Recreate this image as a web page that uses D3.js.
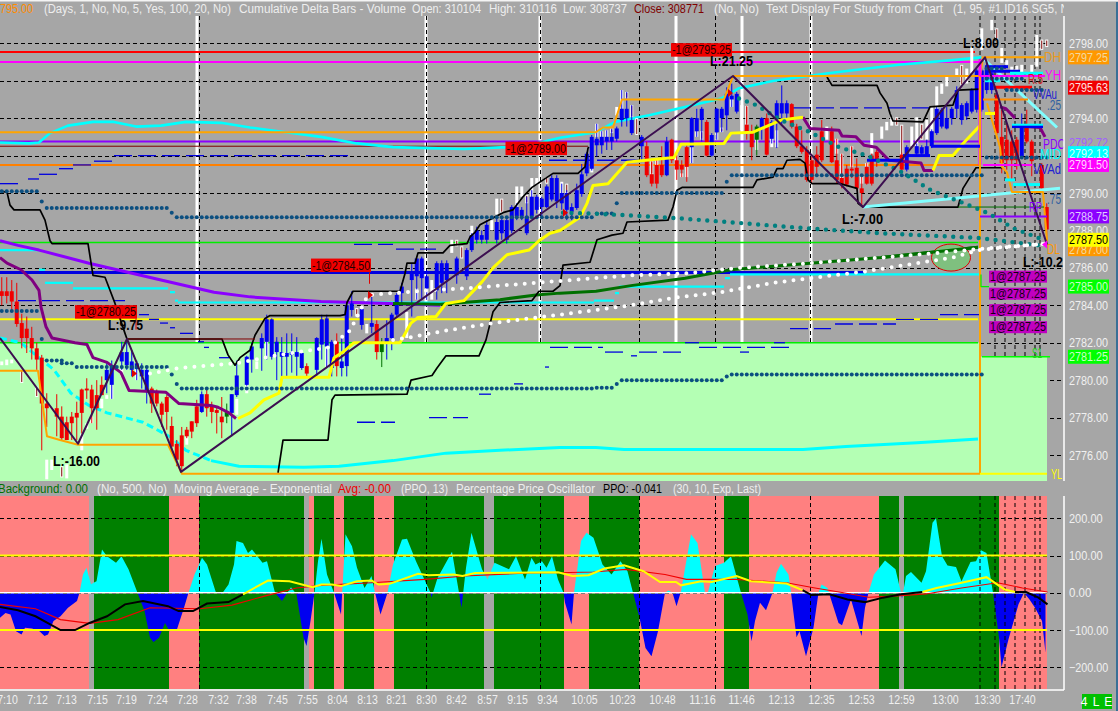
<!DOCTYPE html>
<html><head><meta charset="utf-8">
<script src="https://cdn.jsdelivr.net/npm/d3@7"></script>
<style>html,body{margin:0;padding:0;background:#a6a6a6;overflow:hidden}svg{display:block;font-family:"Liberation Sans",Arial,sans-serif}</style>
</head><body><svg id="c" width="1118" height="711"></svg>
<script>
// ---------- DATA ----------
const priceTicks=[2798,2796,2794,2792.72,2790,2788,2786,2784,2782,2780,2778,2776];
const gridPrices=[2798,2796,2794,2792,2790,2788,2786,2784,2782,2780,2778,2776];
const oscTicks=[200,100,0,-100,-200];
const timeLabels=["7:10","7:12","7:13","7:15","7:19","7:24","7:28","7:32","7:38","7:45","7:55","8:04","8:13","8:21","8:30","8:42","8:57","9:15","9:34","10:05","10:23","10:48","11:16","11:46","12:13","12:35","12:53","12:59","13:00","13:30","17:40"];
const timeBars=[1.4,7.4,13.2,19.4,25.2,31.4,37.4,43.6,49.2,55.4,61.4,67.4,73.4,79.2,85.2,91.2,97.4,103.4,109.4,116.8,124.4,132.4,140.4,148.2,156.2,164.2,172.2,180.2,189,197.4,204.4];
const sessionLines=[39.4,85.2,108,135.2,148.4,162.2];
const sessionDash=[39.8,85.2,108,127.8,143,162,195.9,198.9,200.9,202.9,204.9,206.9,207.9];
const bgSegs=[[0,17.8,'p'],[17.8,18.8,'n'],[18.8,33.8,'g'],[33.8,39.8,'p'],[39.8,60.8,'g'],[60.8,61.8,'n'],[61.8,62.8,'p'],[62.8,66.8,'g'],[66.8,68.8,'p'],[68.8,74.8,'g'],[74.8,78.8,'p'],[78.8,96.8,'g'],[96.8,98.8,'n'],[98.8,112.8,'g'],[112.8,117.8,'p'],[117.8,127.9,'g'],[127.9,144.8,'p'],[144.8,149.8,'g'],[149.8,175.8,'p'],[175.8,179.8,'g'],[179.8,180.8,'n'],[180.8,199.8,'g'],[199.8,209.4,'p']];
// level lines: start bar, end bar, price
const redLevel=[0,195,2797.53], magentaLevel=[0,196,2797], purpleLevel=[0,196,2792.75], darkRedLevel=[0,117.6,2792.5], orangeLevel=[0,196,2791.5], blueLevel=[0,172.8,2785.75], yellowLevel=[0,195.6,2783.25], limeTop=[0,195.6,2787.35], limeBottom=[0,195.6,2782];
const zigzag=[[0,2782.25],[15.6,2776.6],[25.4,2782.2],[36.2,2775.1],[146.6,2796.25],[172.6,2789.25],[197,2797.25],[209.4,2787.25]];
const blackA=[[0,2790.1],[1.4,2790.05],[2,2789.35],[2.8,2789.1],[8,2789.1],[9,2788.55],[10,2787.45],[10.4,2787.3],[17.6,2787.3],[18.6,2785.6],[21,2785.5],[22,2784.8],[23,2784.1],[25,2782.5],[25.4,2782.2],[44.4,2782.2],[45.6,2781.35],[47,2780.8],[48,2781.2],[50,2781.6],[51,2782.4],[53,2783.3],[54,2783.45],[68,2783.45],[69,2783.5],[69.4,2784.15],[70.6,2784.75],[80,2784.75],[81,2785.7],[81.4,2786.25],[83,2786.25],[83.6,2786.8],[88.6,2786.8],[90,2787.2],[93.4,2787.3],[94,2787.65],[95,2787.9],[96,2788.3],[100.6,2788.95],[102.6,2789.1],[104.6,2789.8],[106.4,2790.3],[110.6,2791.05],[115.6,2791.05],[117,2791.4],[117.6,2792.4],[117.8,2792.45]];
const blackB=[[165.4,2796.2],[166.4,2795.75],[175.4,2795.75],[176,2795.35],[177.4,2794.8],[178,2794.25],[178.6,2793.85],[184.6,2793.8],[186,2794.6],[190.6,2794.7],[191.6,2795.5],[196,2795.55]];
const blackC=[[55.6,2775.05],[56.6,2776.8],[65.6,2776.8],[66.4,2778.95],[67,2779.2],[81.4,2779.25],[82.2,2780],[86.4,2780.25],[87.4,2780.65],[89.2,2781.3],[95.8,2781.3],[97.2,2782.15],[98.6,2783.65],[100,2784.15],[106.4,2784.25],[107.8,2784.75],[110.6,2784.75],[112,2785.05],[112.6,2786.15],[118,2786.3],[119.4,2787.5],[122.4,2787.75],[124.6,2787.85],[125.4,2788.45],[133.6,2788.55],[134.6,2789.25],[135.4,2790.15],[136.4,2790.3],[150.6,2790.3],[151.4,2790.7],[154.6,2790.85],[155.4,2791.3],[156.6,2791.3],[157.4,2791.75],[160,2791.8],[161,2791.6],[161.6,2790.7],[162.4,2790.5],[168,2790.5],[171.4,2790.25],[171.6,2789.45],[172.6,2789.25],[191.6,2789.25],[192.6,2790.25],[194,2790.85],[195.2,2791.35],[200.6,2791.35]];
const maroonA=[[0,2786.55],[1.4,2786.25],[4.2,2785.9],[6.4,2785.35],[7.8,2784.8],[8.2,2783.9],[9.2,2782.85],[10.4,2782.25],[15,2782],[17.4,2781.9],[18.6,2781.2],[21.4,2780.95],[24.2,2780.4],[25.8,2779.45],[33.2,2779.35],[35.8,2778.75],[42.2,2778.65],[43.6,2778.55],[45.8,2778.25],[47.2,2777.95]];
const maroonB=[[160.6,2794.05],[162,2793.45],[167.8,2793.35],[168.4,2793.05],[171.2,2793],[172.8,2792.55],[175.2,2792.45],[177.8,2791.75],[184.2,2791.6],[184.8,2791.2],[186.6,2791.2]];
const maroonC=[[200,2794.6],[201.2,2794.5],[203,2794]];
const maroonD=[[202.6,2793.6],[208,2793.5],[209,2793]];
const yellowA=[[47.6,2777.95],[50,2778.25],[52.8,2778.95],[55.8,2779.3],[56.4,2780.15],[65.8,2780.15],[66.8,2781.2],[68.6,2781.5],[70.8,2782],[80,2782],[82.2,2783.05],[83.6,2783.35],[87.2,2783.4],[89.2,2784.1],[92.8,2784.25],[96.4,2785.25],[98.6,2786],[101.4,2786.7],[105.8,2786.95],[107.8,2787.45],[110,2787.85],[112,2788],[116,2788.7],[117.4,2789.45],[118.6,2790.4],[121.6,2790.5],[124.6,2791.4],[125.4,2791.65],[129.2,2791.75],[134.8,2791.9],[136.2,2792.6],[144.8,2792.65],[146.2,2793.2],[150.6,2793.25],[156.2,2793.9],[160.6,2794.05]];
const yellowB=[[186.6,2791.2],[187.8,2792],[190.6,2792],[192.8,2792.7],[196,2793.6]];
const violetWave=[[0,2787.45],[3.6,2787.2],[7.8,2786.95],[17.8,2786.25],[32.2,2785.35],[42.8,2784.7],[50,2784.45],[64.2,2784.2],[77.8,2784.1],[88,2784]];
const cyanUpper=[[0,2792.7],[5.8,2792.65],[7.8,2792.7],[10,2793.2],[13.6,2793.6],[18.6,2793.8],[22.8,2793.8],[27.2,2793.55],[32.2,2793.6],[37.2,2793.8],[44.2,2793.75],[50,2793.5],[57.2,2793.25],[64.2,2793],[71.4,2792.65],[78.6,2792.45],[85.8,2792.4],[92.8,2792.35],[101.4,2792.45],[107.2,2792.65],[112,2792.95],[119.2,2793.25],[123,2793.8],[129.8,2794.15],[137,2794.6],[144.2,2795.05],[147.8,2795.6],[154.8,2796],[165.6,2796.4],[179.8,2796.85],[190.6,2797.1],[196.2,2797.25]];
const cyanFall=[[196.6,2797.2],[211.4,2793.5]];
const cyanRise=[[172.6,2789.25],[212,2790.25]];
const cyanLowerDashed=[[0,2782.25],[4.2,2782],[7.8,2781.2],[10.8,2780.55],[14.2,2779.3],[17.8,2778.65],[21.4,2778.25],[28.6,2777.75],[34.2,2776.95],[37.2,2776.25],[42.2,2775.7]];
const cyanLower=[[42.2,2775.7],[47.8,2775.4],[60.8,2775.35],[67.8,2775.4],[78.6,2775.7],[89.2,2776.1],[100,2776.25],[112,2776.4],[119.2,2776.4],[124.8,2776.3],[144.8,2776.3],[160.6,2776.3],[169.2,2776.45],[183.4,2776.65],[195.6,2776.85]];
const cyanSteps=[[0,7.8,2786.95],[7.8,9,2785.9],[9,14.6,2785.2],[14.6,33.6,2784.9],[34,35,2784.7],[35,35.6,2784.25],[35.6,118.8,2784.15],[118.8,122.8,2784.25],[123,123.8,2784.65],[123.8,144.8,2785],[145,146,2785.45],[146,196,2785.65]];
const greenRise=[[78.6,2784.1],[88,2784.05],[92.6,2784.15],[100,2784.3],[107.2,2784.55],[112,2784.65],[119.2,2784.75],[126.2,2785.05],[137,2785.45],[146.2,2785.9],[162,2786.25],[176.2,2786.55],[190.6,2786.95],[195.6,2787.1]];
const whiteDotsA=[[30,2780.35],[35.8,2780.65],[42.8,2780.8],[47.2,2780.9],[55.8,2781.35],[65.8,2781.75],[70,2782.65],[73.6,2784.55],[78.6,2784.65],[85.8,2784.8],[92.8,2784.9],[100,2785.05],[112,2785.3],[126.2,2785.6],[137,2785.7],[147.8,2786],[162,2786.25],[183.4,2786.7],[195.6,2787],[204.8,2787.2],[209.4,2787.3]];
const whiteDotsB=[[78.6,2782.15],[82.2,2782.3],[89.2,2782.65],[100,2783.1],[112,2783.5],[119.2,2783.75],[126.2,2784],[134.8,2784.4],[144.2,2784.7],[154.8,2785.2],[162,2785.45],[172.8,2785.8],[183.4,2786.25],[190.6,2786.55],[195.6,2786.95],[201.2,2787.1],[209.4,2787.3]];
const tealDotsA=[[112.6,2788.95],[118.4,2788.9],[126.2,2788.8],[135.6,2788.65],[147.8,2788.4],[162,2788.1],[176.2,2787.85],[195.6,2787.6],[208,2787.2]];
const tealDotsB=[[147.8,2795.05],[151.2,2794.7],[156.2,2793.9],[162,2793.25],[167.8,2792.45],[173.4,2792],[179.8,2791.2],[186.2,2790.15],[192.8,2789.45],[197.8,2788.9],[202.8,2788.1],[209.2,2787.45]];
const navyDots=[[0,7,2790.1],[8,8,2789.55],[9,33,2789.2],[34,34,2788.95],[35,118,2788.7],[119,122,2788.9],[123,123,2789.45],[124,144,2790],[145,145,2790.6],[146,196,2790.95],[0,7,2783.7],[8,8,2782.2],[9,12,2781.05],[12,14,2780.9],[15,33,2780.7],[34,34,2780.3],[35,35,2779.8],[36,118,2779.55],[119,122,2779.6],[123,123,2779.8],[124,144,2780],[145,145,2780.2],[146,196,2780.3],[197,209,2791.9],[201,208,2795.5],[197,200,2796.65],[197,204,2796.1]];
const blueDashes=[[0,4.2,2790.5],[5.6,7.8,2790.75],[7.8,11.4,2791],[11.8,14.6,2791.3],[14.6,18.6,2791.5],[18.8,22.4,2791.7],[22.8,69.6,2792],[109.8,128,2791.75],[158.4,187.6,2794.55],[3.6,25,2784.25],[27.8,29.8,2783.5],[29.8,31.8,2783.25],[32,33.6,2783.05],[34,35,2782.8],[36,38.6,2782.5],[39.6,40.8,2782.05],[40.8,41.8,2781.75],[43.8,45.8,2781.2],[71.4,79,2777.75],[85.8,93.6,2778],[95.8,98.2,2779.25],[102.8,104.6,2779.8],[109,109.8,2780.7],[110,120.6,2781.75],[121,124.6,2781.5],[126.2,127.4,2781.3],[127.8,136.2,2781.5],[137,139.8,2782],[139.8,157.8,2781.75],[148,149.8,2781.5],[154.8,157,2782],[158,166.2,2782.75],[167,179.2,2783],[179.2,187.6,2783.25],[188,196,2783.5],[70.8,78.6,2787.25],[79.2,87.2,2787]];
const orangeUpper=[[0,2793.25],[119.2,2793.25],[120.6,2793.5],[122.6,2793.5],[124.4,2795],[144.8,2795],[146.6,2796.25],[196,2796.25],[196.6,2797.25],[208.8,2797.25]];
const orangeLower=[[0,2780.5],[7.6,2780.5],[9.4,2777],[12,2776.8],[15.6,2776.55],[33.6,2776.55],[36.4,2775],[196,2775]];
const orangeRight=[[197.4,2794.8],[198,2794.25],[200,2792.45],[200.4,2791.4],[201.4,2791.1],[202.4,2790.05],[208.6,2790.05],[209.4,2787.45]];
const orangeDrop=[[196,2796.25],[196,2775]];
const magentaDrop=[[196,2797.15],[196,2791.5]];
const limeStep=[[196.2,2785.65],[196.2,2785],[197.8,2785]];
// short right-hand level segments: start bar, end bar, price, colour, weight
const rightSegs=[[199,206.4,2795.65,'#ff0000',3],[196.6,205.6,2795,'#ff8c00',2],[197,201.6,2796.75,'#0000f0',3],[197.4,204,2796.5,'#0000f0',3],[202,208.6,2796.4,'#00ffff',3],[196,209,2796.25,'#ff00ff',2],[196,209.4,2788.75,'#8b00ff',2],[196.6,206.4,2791.5,'#ff00ff',2],[202.4,208.6,2793.55,'#0000f0',3],[202.4,208.6,2793.65,'#00ffff',2],[202.6,208,2790.45,'#00ffff',3],[201,203,2790.7,'#00ffff',3],[186.2,196,2792.5,'#0000f0',3],[180.6,186,2792,'#0000f0',3],[173.4,180.6,2791.75,'#0000f0',3],[191.6,208.8,2789.25,'#007000',1],[196.4,210,2781.25,'#00ff00',1.5],[196,209.4,2775,'#ffff00',2],[197,199,2794.25,'#ffff00',3],[197,200,2796,'#00ffff',3],[25.4,51,2782.2,'#800000',1]];
// candles: bar, kind, body top, body bottom, high, low
const candleRows=[[0,'r',2784.75,2784.5,2785.5,2784],[1,'r',2784.75,2784.5,2785.5,2784.1],[2,'r',2784.75,2784.2,2785.35,2783.75],[3,'r',2784.2,2783,2785.2,2782.85],[4,'r',2783.05,2782.25,2783.55,2781.7],[5,'r',2782.75,2782.25,2783.4,2781.45],[6,'r',2782.25,2781.7,2782.85,2781.1],[7,'r',2781.7,2781.1,2782,2780.55],[8,'r',2781.2,2778.75,2781.35,2776.25],[9,'r',2778.75,2778.5,2779.3,2777.5],[11,'r',2778.5,2778.05,2779.25,2777],[12,'r',2778.05,2776.9,2778.6,2776.8],[13,'r',2777.75,2776.8,2778.05,2776.8],[14,'r',2778.05,2777.7,2778.3,2776.8],[15,'r',2778.25,2778,2778.85,2776.8],[16,'r',2779.5,2778.25,2779.55,2777.15],[17,'r',2779.55,2779.45,2780.1,2779],[18,'r',2779.5,2778.5,2779.75,2777.7],[19,'r',2779.2,2778.5,2780,2777.35],[20,'r',2779.75,2779.2,2780.2,2779.3],[21,'b',2780.55,2780,2780.9,2779.3],[22,'b',2780.8,2779.75,2781.05,2779],[24,'b',2781.5,2781,2782.05,2780.55],[25,'b',2781.5,2780.8,2782.05,2780.55],[26,'b',2781,2780.55,2781.6,2780.2],[27,'b',2780.9,2780.6,2781.05,2780],[28,'b',2780.55,2780.2,2780.9,2779.55],[29,'b',2780.55,2779.4,2780.65,2778.75],[30,'r',2779.55,2778.75,2779.65,2778.25],[31,'r',2779.4,2778.75,2779.5,2778.6],[32,'r',2778.75,2778.15,2778.85,2777.5],[33,'r',2779.1,2778.3,2779.2,2777.35],[34,'r',2777.55,2776.45,2778.05,2776.1],[35,'r',2776.6,2775.75,2776.8,2775.4],[36,'r',2777.05,2775.4,2777.5,2775.2],[37,'r',2777.35,2777,2777.5,2776.9],[38,'r',2777.8,2777.25,2777.8,2776.9],[39,'r',2778.6,2777.7,2778.95,2777.5],[40,'b',2779.25,2778.3,2779.4,2778.25],[41,'r',2779.25,2778.5,2779.5,2778.05],[42,'r',2778.65,2778.3,2778.85,2777.7],[43,'r',2778.4,2778.25,2778.6,2777.15],[44,'r',2778.05,2777.75,2779.1,2776.9],[45,'g',2778.3,2778.05,2778.75,2777.7],[46,'b',2779.25,2778.25,2779.25,2777],[47,'b',2780.25,2779.2,2781.05,2779.1],[49,'b',2781.25,2779.75,2781.3,2779.7],[50,'b',2781.8,2781.1,2782,2780.4],[52,'b',2782.25,2781.7,2782.5,2780.5],[53,'b',2783.25,2782.05,2783.5,2781.1],[54,'b',2783.25,2781.25,2783.3,2781.1],[55,'b',2782.05,2781.5,2782.3,2780],[56,'b',2781.5,2781.25,2782.3,2780.2],[57,'b',2781.45,2781.25,2782.5,2780.2],[58,'b',2781.5,2781.35,2782.5,2780.4],[59,'b',2781.5,2781.25,2782.3,2780.2],[60,'b',2781.45,2780.65,2781.5,2780.55],[61,'r',2780.75,2780.35,2780.9,2780.2],[63,'b',2782.25,2780.55,2782.3,2780.2],[64,'b',2783.25,2781.9,2783.5,2781.1],[65,'b',2783.3,2781.8,2783.5,2780.65],[66,'b',2782.05,2780.65,2782.15,2780.2],[67,'r',2782.05,2780.75,2782.5,2780.2],[68,'b',2781,2780.65,2782.3,2780.2],[69,'b',2784,2780.75,2784.1,2780.2],[70,'b',2784.1,2783.75,2784.75,2783.4],[72,'b',2783.8,2782.95,2783.85,2782.7],[74,'b',2783.05,2782.85,2784.45,2782.5],[75,'r',2783,2781.5,2783.2,2781.1],[76,'g',2782,2781.5,2782.25,2780.7],[77,'b',2782.25,2782,2783.2,2781.1],[78,'b',2783.5,2782.25,2783.6,2781.6],[79,'b',2784.55,2783.5,2784.65,2783.4],[80,'b',2785,2784.65,2785.2,2784],[82,'b',2785.7,2785.35,2786.25,2783.4],[83,'b',2786.5,2785.55,2786.5,2784.3],[84,'b',2786.5,2785.45,2786.6,2784.3],[85,'b',2785.55,2784.9,2785.9,2784.3],[87,'b',2786.25,2784.8,2786.35,2784.3],[88,'b',2786.25,2785.2,2786.4,2784.65],[89,'b',2786.25,2785.35,2786.4,2784.65],[91,'b',2786.5,2785.6,2786.6,2785.15],[93,'b',2786.95,2785.55,2787.05,2785.35],[94,'b',2787.75,2786.95,2787.85,2786.85],[95,'b',2788,2787.5,2788.2,2787.3],[96,'b',2787.75,2787.5,2788,2787.3],[97,'b',2788.3,2787.5,2788.55,2787.3],[99,'b',2788.45,2787.5,2788.75,2787.3],[100,'b',2788.55,2787.85,2788.75,2787.5],[101,'b',2788.55,2787.5,2788.75,2787.3],[102,'b',2789.25,2788,2789.35,2787.85],[103,'b',2789.25,2788.75,2789.45,2788.55],[104,'b',2789.1,2788.75,2789.25,2788.55],[105,'b',2788.75,2787.85,2789.8,2787.75],[106,'b',2789.8,2788.75,2790.15,2788.65],[107,'b',2789.8,2789.1,2789.9,2788.9],[108,'b',2789.7,2789.25,2789.8,2788.75],[109,'b',2790.35,2789.25,2790.45,2789.2],[110,'b',2790.8,2789.65,2790.95,2789.55],[111,'b',2790.8,2789.55,2790.95,2789.2],[112,'b',2790,2789.45,2790.5,2789.1],[113,'b',2790,2789.1,2790.15,2788.55],[114,'b',2789.25,2789,2789.45,2788.55],[115,'b',2790.15,2789.2,2790.5,2789.1],[116,'b',2791,2789.95,2791.55,2789.8],[117,'b',2792.1,2791.05,2792.2,2790.9],[118,'b',2793,2791.3,2793.1,2791.2],[119,'b',2792.9,2792.55,2793.7,2791.95],[120,'b',2793,2792.55,2793.3,2792.1],[121,'b',2793,2792.75,2793.35,2792.3],[122,'b',2793,2792.75,2793.45,2792.3],[123,'b',2793.45,2792.9,2793.55,2792.75],[124,'b',2794.5,2793.9,2795.5,2793.55],[125,'b',2794.5,2794,2795.4,2793.55],[126,'b',2793.9,2793.2,2794.7,2793.1],[128,'b',2793,2792.5,2793.1,2791.65],[129,'r',2792.5,2790.95,2792.75,2790.85],[130,'r',2791,2790.5,2791.7,2790.35],[131,'r',2791.5,2790.5,2791.85,2790.25],[132,'r',2791.5,2790.95,2792.5,2790.85],[133,'b',2792.75,2790.95,2793,2790.9],[134,'r',2792.85,2791.75,2792.9,2791.6],[135,'r',2791.75,2791.25,2792.05,2790.7],[136,'r',2791.5,2791.25,2791.75,2790.85],[137,'r',2792.45,2791.4,2792.55,2790.6],[138,'b',2794,2792.45,2794.05,2791.6],[139,'b',2794,2793.3,2794.5,2793],[140,'b',2794.5,2793.9,2794.6,2792.75],[141,'r',2793.8,2792,2793.9,2791.95],[142,'b',2793.1,2792,2793.2,2791.95],[143,'b',2794.5,2793.25,2794.55,2792.85],[144,'b',2794.5,2794,2794.6,2793.25],[145,'b',2795.3,2794.15,2795.65,2793.35],[146,'b',2795.2,2795,2795.85,2794.6],[147,'b',2795.3,2794.35,2795.4,2794.25],[149,'r',2793.65,2793.25,2794.65,2792.85],[150,'r',2793.3,2792.45,2793.65,2791.75],[151,'g',2793.55,2792.85,2793.65,2792],[152,'b',2794,2793.45,2794.05,2792.85],[153,'r',2794,2792.05,2794.25,2792],[154,'b',2793.8,2792.9,2793.9,2792.65],[155,'b',2794.8,2794,2794.95,2792.4],[156,'b',2794.8,2794.25,2795.75,2793.65],[157,'b',2794.8,2794.25,2794.95,2794],[158,'r',2794.75,2793.55,2794.8,2793.45],[159,'r',2793.55,2792.5,2793.7,2792.4],[160,'r',2792.5,2792.2,2793.35,2792.1],[161,'r',2792.3,2790.7,2792.5,2790.6],[162,'r',2791.75,2790.7,2791.95,2790.5],[163,'r',2792.05,2791.4,2792.5,2790.95],[164,'r',2793.3,2791.75,2793.9,2791.65],[166,'r',2793.3,2791.65,2793.55,2791.6],[167,'r',2791.75,2790.7,2792.9,2790.5],[168,'r',2790.8,2790.45,2792.1,2790.25],[169,'r',2791.3,2790.45,2791.5,2790.35],[170,'r',2791.3,2791.2,2792.5,2790.8],[171,'r',2791.35,2790.25,2791.85,2790.15],[172,'r',2790.25,2790,2790.9,2789.35],[173,'r',2791.4,2790.5,2791.6,2790.45],[174,'r',2792,2790.5,2792.1,2790.4],[175,'r',2792.2,2791.75,2792.3,2791.4],[180,'r',2792.05,2791.25,2792.15,2791.15],[181,'b',2792.45,2791.25,2792.55,2791.15],[183,'b',2792.5,2792.1,2792.65,2791.95],[184,'b',2792.45,2792.1,2792.55,2791.95],[185,'b',2792.5,2792.05,2792.85,2791.95],[186,'b',2793.3,2792.5,2793.4,2792.4],[187,'b',2794.5,2793.2,2794.6,2793.1],[188,'b',2794.45,2793.55,2794.55,2793.45],[189,'b',2794,2793.45,2794.6,2793.4],[190,'b',2794.5,2794,2794.6,2793.65],[191,'b',2795.5,2794.5,2795.7,2794],[192,'b',2794.7,2793.9,2794.8,2793.65],[193,'b',2794.8,2794.1,2794.9,2793.9],[194,'b',2795.5,2794.35,2795.6,2794.25],[195,'b',2796.55,2794.45,2796.65,2794.3],[196,'b',2796.55,2794.45,2796.65,2794.35],[197,'b',2796.75,2795.5,2796.9,2795.3],[198,'b',2796.4,2795.5,2796.5,2795.3],[199,'r',2795.25,2793.2,2795.5,2793.1],[200,'r',2793,2791.6,2794.45,2791.05],[201,'r',2792.85,2791.75,2793.7,2791.25],[202,'r',2792.75,2791.75,2793.35,2790.7],[203,'r',2792.85,2791.75,2793,2791.25],[204,'b',2793.65,2791.95,2794.25,2791.85],[205,'r',2793.65,2792.75,2794.45,2792.65],[206,'r',2792.75,2791.7,2792.85,2790.9],[208,'r',2791.5,2790.25,2791.6,2790.15],[209,'r',2789.25,2788.05,2789.45,2787.25]];
// second study bars: bar, top, bottom, dark centre
const whiteRows=[[0,2781,2780.8,0],[1,2781.1,2780.8,0],[2,2781.1,2780.9,0],[4,2780.55,2779.85,1],[7,2779.65,2779.1,1],[9,2775.75,2774.7,0],[10,2775.75,2775.2,0],[12,2775.4,2774.8,1],[13,2775.5,2774.75,0],[16,2777.15,2776.25,0],[17,2777.7,2777.4,0],[18,2778.05,2777.7,0],[20,2779,2778.5,0],[21,2779.2,2779,0],[22,2779.75,2779,0],[24,2780.6,2780.2,0],[27,2780.55,2780,0],[28,2780.45,2780.2,0],[37,2777,2776.55,0],[47,2779,2778.15,0],[49,2779.75,2779.3,0],[51,2781,2780.6,0],[53,2782.05,2781.25,0],[65,2781.8,2780.65,0],[71,2783.85,2783.4,1],[73,2783,2782.5,0],[81,2783.65,2782.25,0],[83,2784.9,2784.3,0],[85,2784.9,2784.3,0],[86,2785.35,2784.3,0],[90,2787.5,2786.8,0],[91,2787.5,2787.15,1],[92,2787.15,2786.5,1],[94,2788.25,2787.75,0],[98,2788.55,2788,0],[99,2789.7,2788.85,0],[100,2789.7,2788.95,1],[103,2790.35,2789.25,0],[104,2790.35,2789.8,0],[105,2789.9,2789.45,1],[106,2790.8,2789.8,0],[107,2790.8,2790.45,0],[109,2790.85,2790.5,1],[112,2790.6,2790,0],[113,2790.5,2790,1],[118,2791.3,2791.1,0],[119,2793.7,2793,0],[120,2793.3,2793,0],[121,2793.35,2793,0],[122,2793.45,2793.2,1],[123,2794.6,2794.15,0],[124,2795.5,2794.5,0],[125,2795.4,2795.05,1],[126,2794.7,2794.05,1],[127,2794,2793.1,1],[130,2791.7,2791,1],[131,2791.85,2791.5,0],[136,2791.05,2790.85,0],[137,2791.4,2790.85,0],[138,2792.45,2791.6,0],[139,2793.3,2793,0],[140,2793.3,2792.85,1],[143,2793.2,2792.85,0],[144,2793.5,2793.25,1],[146,2795.15,2794.6,0],[148,2794.7,2793.35,0],[149,2794.65,2793.65,1],[151,2792.85,2792.3,0],[154,2792.9,2792.45,0],[155,2793.35,2792.45,0],[165,2793.55,2792.85,0],[167,2792.9,2792.1,0],[168,2792.1,2790.8,1],[170,2792.5,2791.4,1],[172,2790.9,2790.5,0],[173,2791.6,2791.4,0],[174,2793.2,2792.1,0],[176,2793.55,2792.9,0],[177,2793.8,2793.35,0],[178,2794.05,2793.6,0],[179,2794.05,2793.6,1],[180,2793.65,2792.05,1],[182,2793.55,2792.5,0],[183,2794.05,2792.5,0],[184,2793.7,2792.85,1],[185,2793.9,2792.85,0],[186,2794.6,2793.3,0],[187,2795.7,2794.45,0],[188,2795.85,2795.3,0],[189,2796.3,2795.7,0],[191,2796.65,2796.3,0],[192,2796.85,2795.75,1],[193,2796.65,2795.85,0],[194,2797.8,2796.4,0],[196,2798.8,2797.65,0],[198,2799.25,2798.7,0],[199,2798.8,2798.2,1],[200,2797.75,2796.95,0],[201,2797.1,2796.85,0],[202,2796.75,2796.4,0],[203,2796.8,2796.4,0],[204,2796.85,2796.45,0],[206,2796.85,2796.4,0],[207,2798.45,2796.75,0],[208,2798.2,2797.65,1],[209,2798.2,2797.8,1]];
const oscBars=[0,1.1,2.1,3.2,4.3,5,6.4,7.9,8.9,9.6,10.7,12.1,13.6,15.4,15.9,16.6,17.3,18.2,18.7,19.3,20.4,21.4,23.2,24.3,25.7,27.5,28.9,30,30.7,31.8,33,33.9,35.4,36.8,37.7,38.9,40.4,41.4,43.2,44.3,45.7,46.8,47.3,48.6,49.6,50.4,52.5,53.4,55,56.4,58.2,59.3,60.7,61.3,62.1,62.9,63.6,64.3,65.4,66.8,68.2,69.1,70.4,71.4,72.9,74.3,75,76.1,77.5,78.6,80.4,81.4,83.2,86.1,86.3,87.5,90.4,91.8,92.3,93.2,94.3,96.4,97.5,98.9,101.8,103.2,105,106.3,107.1,108.4,109.3,110.4,111.6,112.7,113,114.3,114.8,116.2,117.3,118.7,120.5,122.3,124.1,125.5,126.6,127.9,129.1,130.3,131.6,133,133.7,134.5,135.3,136.2,138.2,139.5,141,141.5,143,144.8,146.2,148.2,149.5,150.3,151,152,153.2,154.5,155.3,156.2,157.7,158.2,159.3,159.9,161.2,162.7,163.7,164.3,165.5,166,167.7,168.4,170.2,172.3,173,173.7,174.8,177,179.1,180.2,180.4,181.2,182.2,184.3,185.2,186.5,187.2,188.4,189.5,191.2,192.3,194.1,195.2,196.2,197.3,198.6,199.8,200.3,201.7,203.7,204.8,205.9,207,208.4,209.1];
const oscVals=[-67,-54,-58,-103,-112,-94,-96,-103,-116,-112,-76,-63,-40,-22,0,49,67,22,27,31,116,98,81,98,63,0,-49,-121,-132,-121,-81,-103,-98,-40,0,49,94,76,0,-4,22,76,139,134,107,116,81,85,0,-22,15,-4,-121,-143,-76,0,85,145,49,0,-58,157,125,67,13,45,0,-58,0,76,143,145,85,0,-13,40,110,0,-40,67,161,63,36,81,63,98,36,94,76,85,67,98,36,0,-27,-85,0,139,161,148,76,49,85,58,0,-67,-148,-170,-103,0,6,0,-36,4,157,134,0,-3,72,81,98,0,-58,-130,-76,-27,-47,0,54,78,49,0,-119,-103,-170,-94,0,22,13,-9,-81,-87,-18,-116,-40,0,49,87,63,0,-16,45,56,27,58,188,200,98,73,69,31,83,85,114,107,0,-121,-200,-125,-31,0,-18,-40,-76,-161];
const oscRed=[[0,-31],[7.1,-43],[12.1,-72],[17.9,-82],[23.6,-72],[30,-40],[40,-43],[46.4,-33],[52.9,-9],[59.3,13],[64.3,20],[74.3,27],[85,36],[93,45],[105.7,53],[111.6,54],[118.7,56],[125.2,63],[133,49],[137.3,36],[147.3,36],[157.3,27],[163,13],[168.7,0],[173.7,-12],[178.7,-9],[185.2,-3],[192.3,13],[199.5,27],[204.5,13],[209.5,2]];
const ppoBlackA=[[0,-38],[3.6,-47],[7.1,-63],[12.1,-100],[15,-100],[17.9,-81],[21.4,-63],[25,-31],[28.6,-22],[33.6,-36],[35.7,-49],[38.6,-49],[41.4,-29],[45.7,-25],[48.6,-4]];
const ppoYellowA=[[48.6,-4],[53.6,33],[57.9,31],[62.5,15],[64.3,22],[66.4,22],[68.2,18],[71.4,31],[74.3,33],[75.7,22],[77.9,24],[83.6,51],[85.7,47],[90.7,49],[92.5,45],[95,53],[111.6,55],[114.5,45],[117.7,47],[120.9,65],[124.8,74],[128.7,58],[132,29],[135.2,29],[136.2,20],[140.2,31],[142.3,29],[147.3,45],[150.2,31],[157.3,25],[160.5,7]];
const ppoBlackB=[[160.5,7],[162.3,-6],[165.9,-4],[169.5,-18],[173,-25],[176.6,-13],[180.2,-4],[184.5,2]];
const ppoYellowB=[[184.5,2],[187.3,13],[192.3,27],[197.3,42],[200.9,9],[203,2]];
const ppoBlackC=[[203,2],[205.2,2],[207.7,-13],[209.5,-31]];
const oscLevels=[100,-100];
const priceBoxes=[[2787,'#ff9800','#f2d9a0'],[2797.25,'#ff9800','#f2d9a0'],[2795.63,'#f00000','#ffe0e0'],[2792.13,'#00ffff','#d8ffff'],[2791.5,'#ff00ff','#ffd8ff'],[2788.75,'#8b00ff','#e0c8ff'],[2787.5,'#ffff00','#000'],[2785,'#00ff00','#c8ffc8'],[2781.25,'#00ff00','#c8ffc8']];
// flag centre price, text, start bar, end bar
const entryFlags=[[2797.66,'-1@2795.25',134.2,146.4],[2792.4,'-1@2789.00',101.1,113.4],[2786.15,'-1@2784.50',62.2,74.2],[2783.66,'-1@2780.25',15,27.4]];
const fillFlags=[[2785.53,'1@2787.25'],[2784.62,'1@2787.25'],[2783.74,'1@2787.25'],[2782.83,'1@2787.25']];
const entryMarks=[[26.4,2780.35],[73.6,2784.55],[112.6,2788.95],[145.6,2795.35]];
const swingLabels=[['L:21.25',142,2797.05,43],['L:8.00',192.6,2798,36],['L:-7.00',168.4,2788.6,41],['L:-16.00',10.6,2775.7,47],['L:9.75',21.6,2782.95,35],['L:-10.2',204.6,2786.3,40]];
const sideTags=[['DH',208.8,2797.25,'#e89a20',17],['YH',209,2796.3,'#ff00ff',16],['R.5',205.6,2796.1,'#d02020',15],['VVAu',206.6,2795.3,'#2020d0',24],['.25',209.4,2794.7,'#3060a0',14],['PDC',208.6,2792.6,'#8b00ff',22],['MID',208,2792.1,'#00ffff',21],['VVAd',206.6,2791.3,'#2020d0',28],['.75',209.4,2789.7,'#3060a0',14],['RP',205.8,2789.25,'#8b00ff',13],['DL',209.4,2787,'#ff9800',13],['S1',206.4,2781.45,'#20d020',10],['YL',210.2,2775,'#ffff00',11]];
// text, x, colour, fitted width
const headerTop=[['2795.00',-6,'#ff8c00',39],['(Days, 1, No, No, 5, Yes, 100, 20, No)',44,'#eee',187],['Cumulative Delta Bars - Volume',239,'#eee',167],['Open: 310104',412,'#eee',69],['High: 310116',489,'#eee',68],['Low: 308737',563,'#eee',64],['Close: 308771',634,'#800000',70],['(No, No)',714,'#eee',45],['Text Display For Study from Chart',766,'#eee',177],['(1, 95, #1.ID16.SG5, No',953,'#eee',122]];
const headerOsc=[['Background: 0.00',-2,'#007000',90],['(No, 500, No)',97,'#eee',70],['Moving Average - Exponential',174,'#eee',158],['Avg: -0.00',338,'#f00000',53],['(PPO, 13)',401,'#eee',47],['Percentage Price Oscillator',456,'#eee',139],['PPO: -0.041',603,'#000',59],['(30, 10, Exp, Last)',673,'#eee',88]];

// ---------- SCALES ----------
const W=1118,H=711,AX=1064,END=1047;
const svg=d3.select('#c');
const x=d3.scaleLinear().domain([0,209.4]).range([0,END]);
const y=d3.scaleLinear().domain([2776,2798]).range([455,43.3]);
const yo=d3.scaleLinear().domain([-200,200]).range([667.3,518.3]);
const barX=b=>x(b+0.35);
const fit=(s,w)=>s.attr('textLength',w).attr('lengthAdjust','spacingAndGlyphs');
const defs=svg.append('defs');
defs.append('clipPath').attr('id','main').append('rect').attr('x',0).attr('y',16).attr('width',AX).attr('height',465);
defs.append('clipPath').attr('id','osc').append('rect').attr('x',0).attr('y',496).attr('width',AX).attr('height',193);
defs.append('clipPath').attr('id','above').append('rect').attr('x',0).attr('y',496).attr('width',AX).attr('height',yo(0)-496);
defs.append('clipPath').attr('id','below').append('rect').attr('x',0).attr('y',yo(0)).attr('width',AX).attr('height',689-yo(0));
defs.append('clipPath').attr('id','axisClip').append('rect').attr('x',0).attr('y',0).attr('width',AX).attr('height',16);

svg.append('rect').attr('width',W).attr('height',H).attr('fill','#a6a6a6');
svg.append('rect').attr('width',W).attr('height',1.5).attr('fill','#f4f4f4');
const main=svg.append('g').attr('clip-path','url(#main)');
const lineGen=d3.line().x(d=>x(d[0])).y(d=>y(d[1]));
const drawLine=(g,data,color,w,dash,cap)=>g.append('path').attr('d',lineGen(data)).attr('fill','none').attr('stroke',color).attr('stroke-width',w).attr('stroke-dasharray',dash||null).attr('stroke-linecap',cap||'butt').attr('stroke-linejoin','round');
const level=(g,r,color,w,dash)=>g.append('line').attr('x1',x(r[0])).attr('x2',x(r[1])).attr('y1',y(r[2])).attr('y2',y(r[2])).attr('stroke',color).attr('stroke-width',w).attr('stroke-dasharray',dash||null);

// grid first: the green zone hides it
sessionLines.forEach(b=>main.append('line').attr('x1',x(b)).attr('x2',x(b)).attr('y1',16).attr('y2',y(2782)).attr('stroke','#fff').attr('stroke-width',3));
gridPrices.forEach(p=>main.append('line').attr('x1',0).attr('x2',AX).attr('y1',Math.round(y(p))+.5).attr('y2',Math.round(y(p))+.5).attr('stroke','#000').attr('stroke-dasharray','4,3'));
sessionDash.forEach(b=>main.append('line').attr('x1',x(b)+.5).attr('x2',x(b)+.5).attr('y1',16).attr('y2',481).attr('stroke','#000').attr('stroke-dasharray','4,3'));
// green zone, with its notch on the right
main.append('rect').attr('x',0).attr('width',x(196.2)).attr('y',y(2782)).attr('height',481-y(2782)).attr('fill','#b4ffb4');
main.append('rect').attr('x',x(196.2)).attr('width',END-x(196.2)).attr('y',y(2781.25)).attr('height',481-y(2781.25)).attr('fill','#b4ffb4');

// levels
level(main,redLevel,'#ff0000',2);level(main,magentaLevel,'#ff00ff',2);level(main,purpleLevel,'#8b00ff',2);
level(main,darkRedLevel,'#800000',1);level(main,orangeLevel,'#ff8000',2);level(main,limeTop,'#00ee00',1.5);level(main,limeBottom,'#00ee00',1.5);
level(main,blueLevel,'#0000e0',3);level(main,yellowLevel,'#ffff00',2);
blueDashes.forEach(r=>level(main,r,'#0000e0',1.3,'18,6'));
cyanSteps.forEach(r=>level(main,r,'#00ffff',2.2));
drawLine(main,violetWave,'#8b00ff',3);
drawLine(main,cyanUpper,'#00ffff',2.6);
drawLine(main,cyanLowerDashed,'#00ffff',3,'7,4');
drawLine(main,cyanLower,'#00ffff',3);

// candles
const wicks=main.append('g');
const cColor={b:'#0000f0',r:'#f00000',g:'#007000'};
whiteRows.forEach(r=>{
  wicks.append('rect').attr('x',barX(r[0])-1.5).attr('width',3).attr('y',y(r[1])).attr('height',y(r[2])-y(r[1])).attr('fill','#fff');
  if(r[3]) wicks.append('rect').attr('x',barX(r[0])-.5).attr('width',1).attr('y',y(r[1])+1).attr('height',Math.max(1,y(r[2])-y(r[1])-2)).attr('fill','#800000');
});
candleRows.forEach(r=>{
  const c=cColor[r[1]];
  wicks.append('rect').attr('x',barX(r[0])-.5).attr('width',1).attr('y',y(r[4])).attr('height',y(r[5])-y(r[4])).attr('fill',c);
  wicks.append('rect').attr('x',barX(r[0])-2).attr('width',4).attr('y',y(r[2])).attr('height',Math.max(1,y(r[3])-y(r[2]))).attr('fill',c);
});

// studies
drawLine(main,greenRise,'#007000',3);
drawLine(main,blackA,'#000',1.7);drawLine(main,blackB,'#000',1.7);drawLine(main,blackC,'#000',1.7);
drawLine(main,maroonA,'#800080',3);drawLine(main,maroonB,'#800080',3);drawLine(main,maroonC,'#800080',3);drawLine(main,maroonD,'#800080',3);
drawLine(main,yellowA,'#ffff00',3);drawLine(main,yellowB,'#ffff00',3);
drawLine(main,cyanFall,'#80ffff',3);drawLine(main,cyanRise,'#80ffff',3);
drawLine(main,orangeUpper,'#ffa500',2);drawLine(main,orangeLower,'#ffa500',2);drawLine(main,orangeRight,'#ffa500',2);
drawLine(main,magentaDrop,'#ff00ff',3);drawLine(main,orangeDrop,'#ffa500',2);drawLine(main,limeStep,'#00ee00',1.2);
rightSegs.forEach(r=>level(main,r,r[3],r[4]));
navyDots.forEach(r=>{d3.range(r[0],r[1]+.01,1).forEach(b=>main.append('circle').attr('cx',barX(b)).attr('cy',y(r[2])).attr('r',2).attr('fill','#0b4f80'));});
drawLine(main,tealDotsA,'#008080',4.4,'0,8.5','round');drawLine(main,tealDotsB,'#008080',4.4,'0,8.5','round');
main.append('ellipse').attr('cx',x(190.2)).attr('cy',y(2786.55)).attr('rx',19.5).attr('ry',13.5).attr('fill','#7fc07f').attr('stroke','#e00000').attr('stroke-width',1);
drawLine(main,greenRise.slice(-3),'#007000',3);
drawLine(main,whiteDotsA,'#fff',4,'0,9','round');drawLine(main,whiteDotsB,'#fff',4,'0,9','round');
drawLine(main,zigzag,'#3c0f50',2);
// marks
entryMarks.forEach(m=>main.append('path').attr('transform',`translate(${x(m[0])},${y(m[1])})`).attr('d','M0,-4L5,0L0,4Z').attr('fill','#e00000'));
main.append('path').attr('transform',`translate(${x(209.4)},${y(2787.25)})`).attr('d','M0,-4L-5,0L0,4Z').attr('fill','#ff00ff');

// entry flags
entryFlags.forEach(f=>{
  const yc=y(f[0]);
  main.append('rect').attr('x',x(f[2])).attr('width',x(f[3])-x(f[2])).attr('y',yc-6.5).attr('height',13.5).attr('fill','#f00000');
  fit(main.append('text').attr('x',x(f[2])+1).attr('y',yc+4.6).attr('font-size',12).attr('fill','#200000').text(f[1]),x(f[3])-x(f[2])-2);
});
main.append('line').attr('x1',x(73.9)).attr('x2',x(73.9)).attr('y1',y(2785.75)).attr('y2',y(2785.15)).attr('stroke','#e00000');
main.append('line').attr('x1',x(27.2)).attr('x2',x(27.2)).attr('y1',y(2783.3)).attr('y2',y(2782.7)).attr('stroke','#e00000');
fillFlags.forEach(f=>{
  const yc=y(f[0]);
  main.append('rect').attr('x',x(197.8)).attr('width',x(209.4)-x(197.8)).attr('y',yc-6).attr('height',12).attr('fill','#c000c0');
  fit(main.append('text').attr('x',x(197.8)+1).attr('y',yc+4.3).attr('font-size',12).attr('fill','#100010').text(f[1]),x(209.4)-x(197.8)-2);
});
sideTags.forEach(t=>fit(main.append('text').attr('x',x(t[1])).attr('y',y(t[2])+5).attr('font-size',14).attr('fill',t[3]).text(t[0]),t[4]));
swingLabels.forEach(t=>fit(main.append('text').attr('x',x(t[1])).attr('y',y(t[2])+5).attr('font-size',14).attr('font-weight',700).attr('fill','#000').text(t[0]),t[3]));

// ---------- OSC PANE ----------
const osc=svg.append('g').attr('clip-path','url(#osc)');
const bgColor={p:'#ff8080',g:'#008000',n:'#a6a6a6'};
bgSegs.forEach(s=>osc.append('rect').attr('x',x(s[0])).attr('width',x(s[1])-x(s[0])).attr('y',496).attr('height',193).attr('fill',bgColor[s[2]]));
const oscPts=oscBars.map((b,i)=>[b,oscVals[i]]);
const area=d3.area().x(d=>x(d[0])).y0(yo(0)).y1(d=>yo(d[1]));
osc.append('path').attr('d',area(oscPts)).attr('fill','#00ffff').attr('clip-path','url(#above)');
osc.append('path').attr('d',area(oscPts)).attr('fill','#0000f0').attr('clip-path','url(#below)');
oscTicks.forEach(v=>osc.append('line').attr('x1',0).attr('x2',AX).attr('y1',Math.round(yo(v))+.5).attr('y2',Math.round(yo(v))+.5).attr('stroke','#000').attr('stroke-dasharray','4,3'));
sessionDash.forEach(b=>osc.append('line').attr('x1',x(b)+.5).attr('x2',x(b)+.5).attr('y1',496).attr('y2',689).attr('stroke','#000').attr('stroke-dasharray','4,3'));
oscLevels.forEach(v=>osc.append('line').attr('x1',0).attr('x2',END).attr('y1',yo(v)).attr('y2',yo(v)).attr('stroke','#ffff00').attr('stroke-width',2));
osc.append('line').attr('x1',0).attr('x2',END).attr('y1',yo(0)).attr('y2',yo(0)).attr('stroke','#fff').attr('stroke-width',1.5);
const oLine=d3.line().x(d=>x(d[0])).y(d=>yo(d[1]));
const oDraw=(d,c,w)=>osc.append('path').attr('d',oLine(d)).attr('fill','none').attr('stroke',c).attr('stroke-width',w);
oDraw(oscRed,'#f00000',1.1);
oDraw(ppoBlackA,'#000',2);oDraw(ppoBlackB,'#000',2);oDraw(ppoBlackC,'#000',2);
oDraw(ppoYellowA,'#ffff00',2);oDraw(ppoYellowB,'#ffff00',2);

// ---------- AXES ----------
const axisFont='"Liberation Sans",Arial,sans-serif';
const priceAxis=svg.append('g').attr('transform',`translate(${AX},0)`).call(d3.axisRight(y).tickValues(priceTicks).tickSize(0).tickPadding(5).tickFormat(d3.format('.2f')));
priceAxis.select('.domain').remove();
fit(priceAxis.selectAll('text').attr('font-size',12.5).attr('font-family',axisFont).attr('fill',d=>d===2792.72?'#a060ff':'#f0f0f0'),39);
const oscAxis=svg.append('g').attr('transform',`translate(${AX},0)`).call(d3.axisRight(yo).tickValues(oscTicks).tickSize(0).tickPadding(5).tickFormat(d3.format('.2f')));
oscAxis.select('.domain').remove();
fit(oscAxis.selectAll('text').attr('font-size',12.5).attr('font-family',axisFont).attr('fill','#f0f0f0'),null);
oscAxis.selectAll('text').attr('textLength',d=>d3.format('.2f')(d).length*5.6);
priceBoxes.forEach(b=>{
  const yc=y(b[0]);
  svg.append('rect').attr('x',1068).attr('width',41).attr('y',yc-7).attr('height',14).attr('fill',b[1]);
  fit(svg.append('text').attr('x',1069).attr('y',yc+4.5).attr('font-size',12.5).attr('fill',b[2]).text(d3.format('.2f')(b[0])),39);
});
const timeAxis=svg.append('g').attr('transform','translate(0,690)').call(d3.axisBottom(x).tickValues(timeBars).tickSize(0).tickPadding(5).tickFormat((d,i)=>timeLabels[i]));
timeAxis.select('.domain').remove();
timeAxis.selectAll('text').attr('font-size',12).attr('font-family',axisFont).attr('fill','#f0f0f0').attr('lengthAdjust','spacingAndGlyphs').attr('textLength',(d,i)=>timeLabels[i].length===4?20.5:26.5);
svg.append('line').attr('x1',AX).attr('x2',AX).attr('y1',16).attr('y2',690).attr('stroke','#fff').attr('stroke-width',1.5);
svg.append('line').attr('x1',0).attr('x2',AX).attr('y1',690).attr('y2',690).attr('stroke','#fff').attr('stroke-width',1.5);

// ---------- HEADERS ----------
const hTop=svg.append('g').attr('clip-path','url(#axisClip)');
headerTop.forEach(h=>fit(hTop.append('text').attr('x',h[1]).attr('y',13).attr('font-size',12.5).attr('fill',h[2]).text(h[0]),h[3]));
svg.append('rect').attr('x',0).attr('y',481).attr('width',END+30).attr('height',15).attr('fill','#a6a6a6');
headerOsc.forEach(h=>fit(svg.append('text').attr('x',h[1]).attr('y',493).attr('font-size',12.5).attr('fill',h[2]).text(h[0]),h[3]));
svg.append('rect').attr('x',1082).attr('y',694).attr('width',30).attr('height',15).attr('fill','#00c000');
svg.append('text').attr('x',1097).attr('y',706).attr('text-anchor','middle').attr('font-size',12).attr('letter-spacing',1).attr('fill','#fff').text('4 L E');
svg.append('rect').attr('x',1116).attr('y',2).attr('width',2).attr('height',709).attr('fill','#3a6f96');
</script></body></html>
